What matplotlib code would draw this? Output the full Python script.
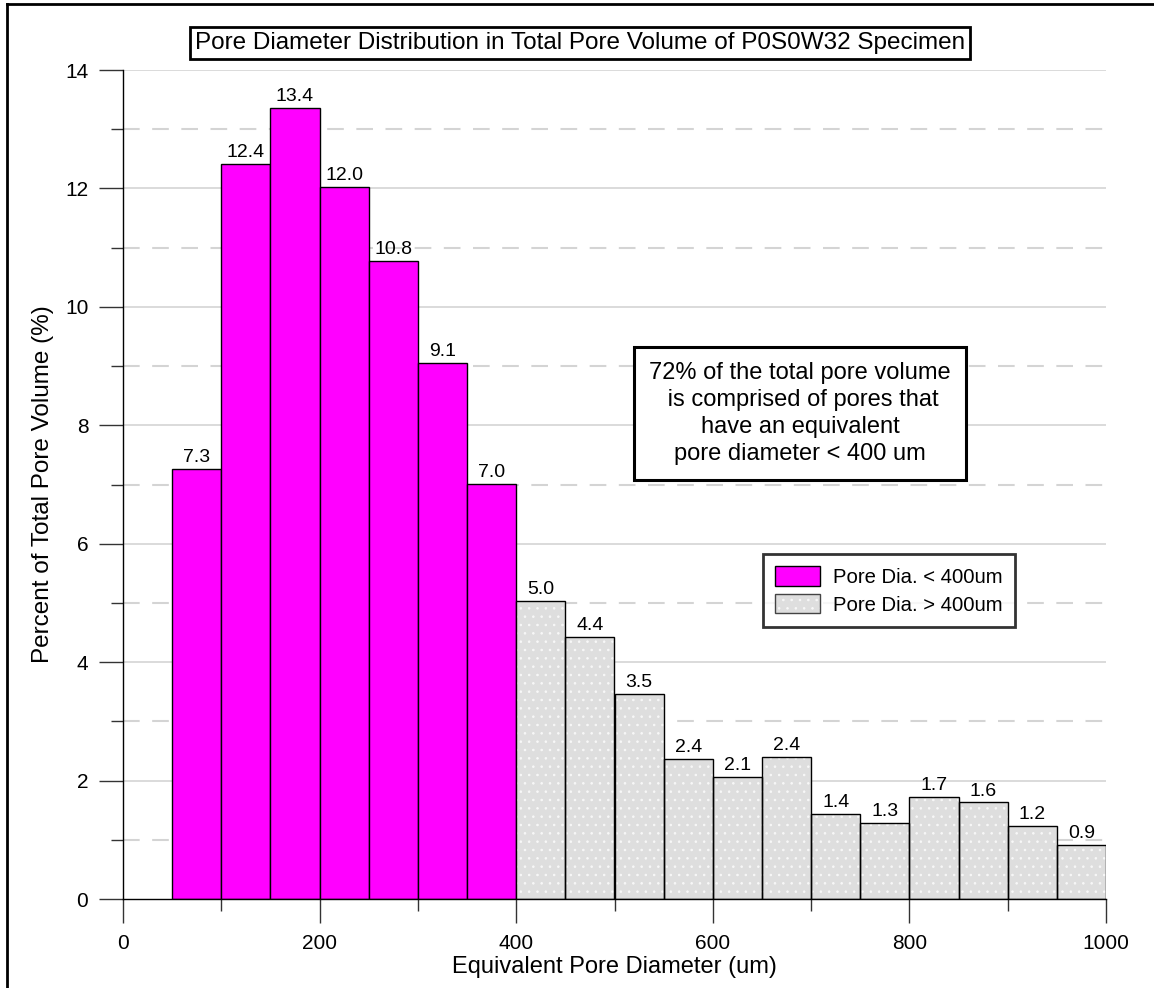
import matplotlib.pyplot as plt
import numpy as np
from matplotlib.patches import Patch
from matplotlib.lines import Line2D

# bin edges (um) and percent of total pore volume per bin
bin_left = [50, 100, 150, 200, 250, 300, 350, 400, 450, 500,
            550, 600, 650, 700, 750, 800, 850, 900, 950]
bin_width = 50
pore_pct = [7.26, 12.42, 13.36, 12.03, 10.77, 9.06, 7.01, 5.04, 4.43, 3.47,
            2.36, 2.06, 2.40, 1.44, 1.29, 1.72, 1.63, 1.23, 0.91]
pct_labels = ['7.3', '12.4', '13.4', '12.0', '10.8', '9.1', '7.0', '5.0', '4.4', '3.5',
              '2.4', '2.1', '2.4', '1.4', '1.3', '1.7', '1.6', '1.2', '0.9']
cutoff = 400

plt.rcParams['font.family'] = ['Liberation Sans', 'DejaVu Sans']
plt.rcParams['hatch.linewidth'] = 0.6

fig = plt.figure(figsize=(11.54, 9.88), dpi=100)
ax = fig.add_axes([123 / 1154, 89 / 988, (1106 - 123) / 1154, (899 - 70) / 988])

# grid: solid at majors, dashed at minors
for y in range(2, 15, 2):
    ax.axhline(y, color='#d4d4d4', lw=1.2, zorder=0)
for y in range(1, 14, 2):
    ax.axhline(y, color='#d4d4d4', lw=1.5, dashes=(8, 6), zorder=0)

lefts = np.array(bin_left)
vals = np.array(pore_pct)
small = lefts < cutoff
big = ~small

ax.bar(lefts[small], vals[small], width=bin_width, align='edge',
       color='#ff00ff', edgecolor='black', lw=1, zorder=2)
# dotted gray bars: hatch in white, then outline on top
ax.bar(lefts[big], vals[big], width=bin_width, align='edge',
       color='#dedede', edgecolor='#f8f8f8', hatch='..', lw=0, zorder=2)
ax.bar(lefts[big], vals[big], width=bin_width, align='edge',
       fill=False, edgecolor='black', lw=1, zorder=3)

for x, v, s in zip(lefts, vals, pct_labels):
    ax.text(x + bin_width / 2, v + 0.05, s, ha='center', va='bottom',
            fontsize=14, zorder=4)

ax.set_xlim(0, 1000)
ax.set_ylim(0, 14)
ax.set_xticks(range(0, 1001, 200))
ax.set_xticks(range(100, 1000, 200), minor=True)
ax.set_yticks(range(0, 15, 2))
ax.set_yticks(range(1, 14, 2), minor=True)
ax.tick_params(which='major', direction='out', length=17, width=1, color='#333333',
               labelsize=15, pad=8)
ax.tick_params(which='minor', direction='out', length=8.5, width=1, color='#333333')

for sp in ['top', 'right']:
    ax.spines[sp].set_visible(False)
ax.spines['left'].set_linewidth(1)
ax.spines['bottom'].set_linewidth(1)

ax.set_xlabel('Equivalent Pore Diameter (um)', fontsize=17, labelpad=2)
ax.set_ylabel('Percent of Total Pore Volume (%)', fontsize=17.5, labelpad=8)

fig.text(580 / 1154, 1 - 43 / 988,
         'Pore Diameter Distribution in Total Pore Volume of P0S0W32 Specimen',
         ha='center', va='center', fontsize=17.5,
         bbox=dict(boxstyle='square,pad=0.2', fc='white', ec='black', lw=2))

ax.text(689, 8.2,
        '72% of the total pore volume\n is comprised of pores that\nhave an equivalent\npore diameter < 400 um',
        ha='center', va='center', fontsize=17, linespacing=1.28, zorder=5,
        bbox=dict(boxstyle='square,pad=0.65', fc='white', ec='black', lw=2.2))

handles = [Patch(facecolor='#ff00ff', edgecolor='black', lw=1),
           (Patch(facecolor='#dedede', edgecolor='#f8f8f8', hatch='..', lw=0),
            Patch(fill=False, edgecolor='#444444', lw=1))]
leg = ax.legend(handles, ['Pore Dia. < 400um', 'Pore Dia. > 400um'],
                loc='upper left', bbox_to_anchor=((763 - 123) / (1106 - 123), (899 - 554) / (899 - 70)),
                fontsize=14.6, frameon=True, fancybox=False, handlelength=2.2, handleheight=1.1,
                borderpad=0.6, labelspacing=0.35, handletextpad=0.65, borderaxespad=0)
leg.get_frame().set_edgecolor('black')
leg.get_frame().set_linewidth(2)
leg.set_zorder(6)

# figure frame (top and left edges)
fig.add_artist(Line2D([7 / 1154, 7 / 1154], [0, 1 - 4 / 988], color='black', lw=2))
fig.add_artist(Line2D([7 / 1154, 1], [1 - 4 / 988, 1 - 4 / 988], color='black', lw=2))

fig.savefig('out.png', dpi=100)
